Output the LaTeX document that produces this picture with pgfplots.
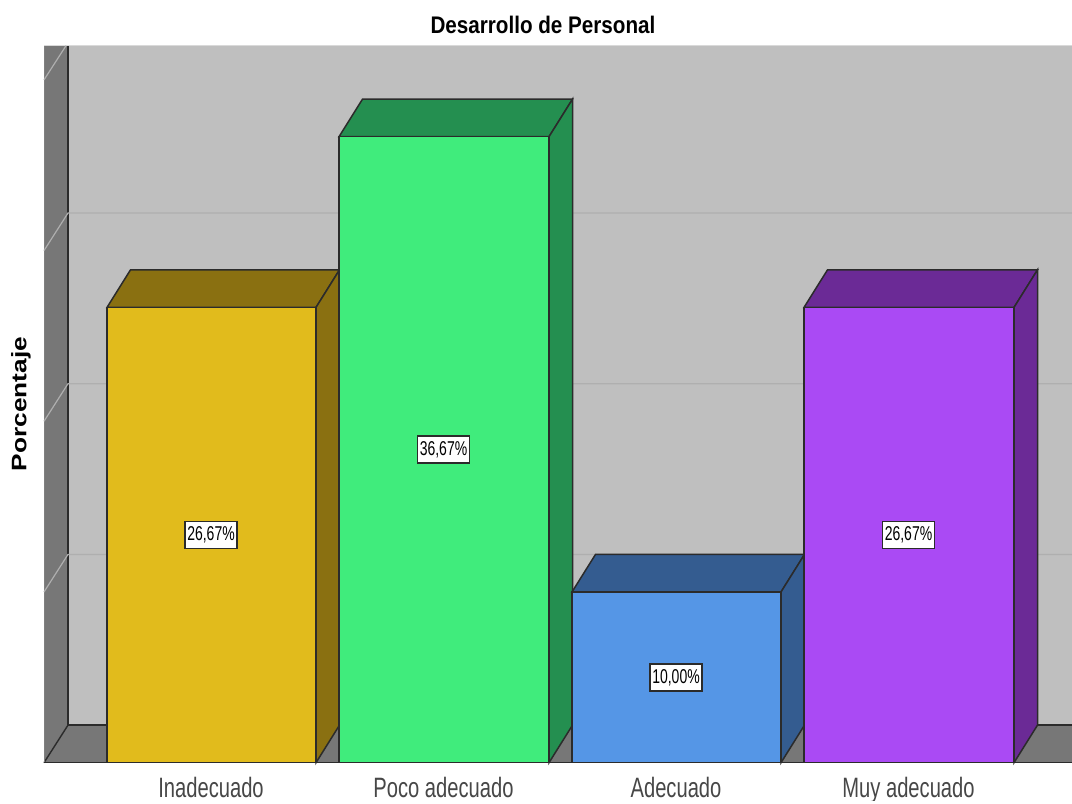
\documentclass[border=0pt]{standalone}
\usepackage{fontspec}
\usepackage{pgfplots}
\pgfplotsset{compat=1.18}
\setmainfont{Liberation Sans}
\newfontfamily\narrowfont[FakeStretch=0.72]{Liberation Sans}
\newfontfamily\valuefont[FakeStretch=0.70]{Liberation Sans}
\newfontfamily\titlefont[FakeStretch=0.86]{Liberation Sans}
\newfontfamily\wideboldfont[FakeStretch=1.25]{Liberation Sans}

% Chart colours
\definecolor{wallback}{HTML}{BFBFBF}
\definecolor{wallside}{HTML}{777777}
\definecolor{gridc}{HTML}{AFAFAF}
\definecolor{edgec}{HTML}{2B2B2B}
\definecolor{goldF}{HTML}{E1BB1C}
\definecolor{goldS}{HTML}{8A7011}
\definecolor{greenF}{HTML}{40EC7C}
\definecolor{greenS}{HTML}{248F50}
\definecolor{blueF}{HTML}{5596E6}
\definecolor{blueS}{HTML}{345C90}
\definecolor{purpleF}{HTML}{AA4AF4}
\definecolor{purpleS}{HTML}{6B2A96}

\tikzset{
  vallabel/.style={draw=edgec, line width=1.5pt, fill=white, inner sep=0pt,
    minimum width=52pt, minimum height=27pt, text=black,
    font=\valuefont\fontsize{20}{20}\selectfont},
  catlabel/.style={anchor=base, text=black!72,
    font=\narrowfont\fontsize{28}{28}\selectfont},
}

\begin{document}
\begin{tikzpicture}
\begin{axis}[
  scale only axis, width=1072pt, height=804pt,
  xmin=0, xmax=1072, ymin=-2.42, ymax=44.68,
  hide axis, clip=true, clip mode=individual,
]
% Page background
\addplot[draw=none, fill=white] coordinates {(0,-2.42) (1072,-2.42) (1072,44.68) (0,44.68)} \closedcycle;

% Back wall, floor and side wall of the 3D frame
\addplot[draw=none, fill=wallback] coordinates {(68,2.2) (1072,2.2) (1072,42) (68,42)} -- cycle;
\addplot[draw=none, fill=wallside] coordinates {(44,0) (68,2.2) (1072,2.2) (1072,0)} -- cycle;
\addplot[draw=none, fill=wallside] coordinates {(44,0) (68,2.2) (68,42) (44,42)} -- cycle;
\addplot[draw=edgec, line width=1.6pt] coordinates {(1072,2.2) (68,2.2) (68,42)};
\addplot[draw=edgec, line width=1.4pt] coordinates {(68,2.2) (44,0)};
\addplot[draw=edgec!60, line width=0.8pt] coordinates {(44,42) (44,0)};
\addplot[draw=edgec, line width=1.6pt] coordinates {(44,0) (1072,0)};
\addplot[draw=white!85!black, line width=1pt] coordinates {(44,42) (68,42) (1072,42)};

% Gridlines on the back wall, continued across the side wall
\addplot[draw=gridc, line width=1.2pt] coordinates {(44,10) (68,12.2) (1072,12.2)};
\addplot[draw=gridc, line width=1.2pt] coordinates {(44,20) (68,22.2) (1072,22.2)};
\addplot[draw=gridc, line width=1.2pt] coordinates {(44,30) (68,32.2) (1072,32.2)};
\addplot[draw=gridc, line width=1.2pt] coordinates {(44,40) (66,42)};

% Inadecuado
\addplot[draw=edgec, line width=1.5pt, fill=goldS] coordinates {(107,26.67) (130.5,28.87) (339.5,28.87) (316,26.67)} -- cycle;
\addplot[draw=edgec, line width=1.5pt, fill=goldS] coordinates {(316,0) (339.5,2.2) (339.5,28.87) (316,26.67)} -- cycle;
\addplot[draw=edgec, line width=1.5pt, fill=goldF] coordinates {(107,0) (107,26.67) (316,26.67) (316,0)} -- cycle;

% Poco adecuado
\addplot[draw=edgec, line width=1.5pt, fill=greenS] coordinates {(339,36.67) (362.5,38.87) (572.5,38.87) (549,36.67)} -- cycle;
\addplot[draw=edgec, line width=1.5pt, fill=greenS] coordinates {(549,0) (572.5,2.2) (572.5,38.87) (549,36.67)} -- cycle;
\addplot[draw=edgec, line width=1.5pt, fill=greenF] coordinates {(339,0) (339,36.67) (549,36.67) (549,0)} -- cycle;

% Adecuado
\addplot[draw=edgec, line width=1.5pt, fill=blueS] coordinates {(572,10) (595.5,12.2) (804.5,12.2) (781,10)} -- cycle;
\addplot[draw=edgec, line width=1.5pt, fill=blueS] coordinates {(781,0) (804.5,2.2) (804.5,12.2) (781,10)} -- cycle;
\addplot[draw=edgec, line width=1.5pt, fill=blueF] coordinates {(572,0) (572,10) (781,10) (781,0)} -- cycle;

% Muy adecuado
\addplot[draw=edgec, line width=1.5pt, fill=purpleS] coordinates {(804,26.67) (827.5,28.87) (1037.5,28.87) (1014,26.67)} -- cycle;
\addplot[draw=edgec, line width=1.5pt, fill=purpleS] coordinates {(1014,0) (1037.5,2.2) (1037.5,28.87) (1014,26.67)} -- cycle;
\addplot[draw=edgec, line width=1.5pt, fill=purpleF] coordinates {(804,0) (804,26.67) (1014,26.67) (1014,0)} -- cycle;

% Value labels at mid height of each bar
\node[vallabel] at (axis cs:211,13.335) {26,67\%};
\node[vallabel] at (axis cs:443.5,18.335) {36,67\%};
\node[vallabel] at (axis cs:676,5) {10,00\%};
\node[vallabel] at (axis cs:908.5,13.335) {26,67\%};

% Category labels, cut off along the lower page margin
\begin{scope}
\clip (axis cs:0,-2.22) rectangle (axis cs:1072,0);
\node[catlabel] at (axis cs:211,-2.05) {Inadecuado};
\node[catlabel] at (axis cs:443.5,-2.05) {Poco adecuado};
\node[catlabel] at (axis cs:676,-2.05) {Adecuado};
\node[catlabel] at (axis cs:908.5,-2.05) {Muy adecuado};
\end{scope}

% Title and vertical axis title
\node[anchor=center, font=\titlefont\bfseries\fontsize{24}{24}\selectfont] at (axis cs:543,43.2) {Desarrollo de Personal};
\node[anchor=center, rotate=90, font=\wideboldfont\bfseries\fontsize{21}{21}\selectfont] at (axis cs:21,21) {Porcentaje};
\end{axis}
\end{tikzpicture}
\end{document}
